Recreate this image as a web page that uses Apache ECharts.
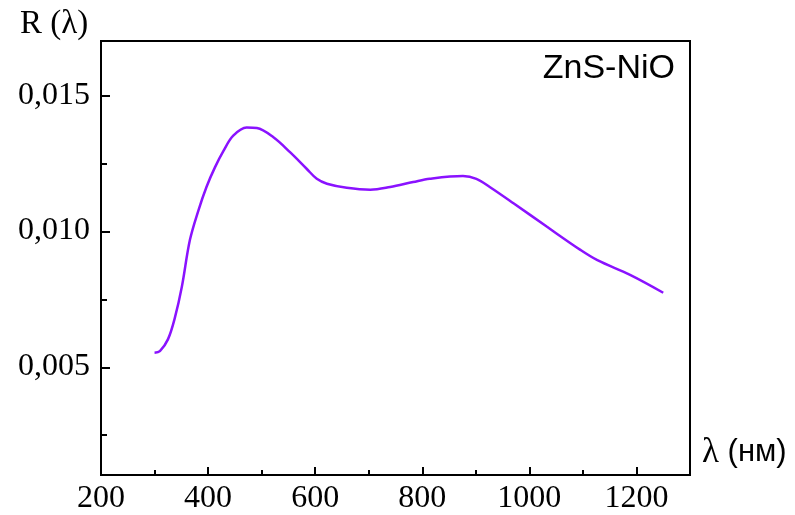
<!DOCTYPE html>
<html>
<head>
<meta charset="utf-8">
<script src="https://cdn.jsdelivr.net/npm/echarts@6/dist/echarts.min.js"></script>
<style>html,body{margin:0;padding:0;background:#fff;}#c{width:795px;height:515px;}</style>
</head>
<body>
<div id="c"></div>
<script>
// Data
var wavelength = [300, 310, 325, 338, 351, 366, 382, 397, 413, 429, 447, 472, 491, 522, 553, 584, 603, 622, 659, 703, 740, 783, 814, 876, 901, 926, 971, 1033, 1096, 1127, 1189, 1250];
var reflectance = [0.00551, 0.00557, 0.00600, 0.00680, 0.00794, 0.00966, 0.01076, 0.01162, 0.01235, 0.01296, 0.01351, 0.01381, 0.01379, 0.01345, 0.0129, 0.01229, 0.01192, 0.01174, 0.01159, 0.01152, 0.01162, 0.0118, 0.01192, 0.01202, 0.01192, 0.01162, 0.01101, 0.01015, 0.00929, 0.00892, 0.00837, 0.00772];
var xTickLabels = [200, 400, 600, 800, 1000, 1200];
var yTickLabels = [0.005, 0.010, 0.015];
var xMin = 200, xMax = 1300, xMajorStep = 200, xMinorStep = 100;
var yMin = 0.001, yMax = 0.017, yMajorStep = 0.005, yMinorStep = 0.0025;
var seriesName = 'ZnS-NiO';
var yTitle = 'R (λ)';
var xTitleSymbol = 'λ';
var xTitleUnit = ' (нм)';

var W = 795, H = 515;
var G = { left: 101, right: 105, top: 41, bottom: 39 };
var plotH = H - G.top - G.bottom;
function pixY(v) { return G.top + (yMax - v) / (yMax - yMin) * plotH; }

var chart = echarts.init(document.getElementById('c'));
var serif = 'Liberation Serif';
var pts = wavelength.map(function (w, i) { return [w, reflectance[i]]; });
var tickLine = { color: '#000', width: 2 };

// y tick grids start at the first tick value (multiple of its step) so interval ticks align
var yMajorStart = yMajorStep, yMinorStart = yMinorStep;

var grids = [
  { left: G.left, right: G.right, top: G.top, bottom: G.bottom, show: true, borderColor: '#000', borderWidth: 2, backgroundColor: 'transparent' },
  { left: G.left, right: G.right, top: G.top, bottom: G.bottom },
  { left: G.left, right: G.right, top: G.top, bottom: G.bottom },
  { left: G.left, right: G.right, top: G.top, bottom: H - pixY(yMajorStart) },
  { left: G.left, right: G.right, top: G.top, bottom: H - pixY(yMinorStart) }
];

function hidden(gi) { return { type: 'value', gridIndex: gi, show: false }; }
function xTickAxis(gi, step, len) {
  return {
    type: 'value', gridIndex: gi, min: xMin, max: xMax, interval: step, position: 'bottom',
    splitLine: { show: false }, axisLine: { show: false }, axisLabel: { show: false },
    axisTick: { show: true, inside: true, length: len, lineStyle: tickLine }
  };
}
function yTickAxis(gi, start, step, len) {
  return {
    type: 'value', gridIndex: gi, min: start, max: yMax, interval: step, position: 'left',
    splitLine: { show: false }, axisLine: { show: false }, axisLabel: { show: false },
    axisTick: { show: true, inside: true, length: len, lineStyle: tickLine }
  };
}

chart.setOption({
  animation: false,
  backgroundColor: '#fff',
  grid: grids,
  xAxis: [
    {
      type: 'value', gridIndex: 0, min: xMin, max: xMax, position: 'bottom',
      splitLine: { show: false },
      axisLine: { show: true, lineStyle: { color: '#000', width: 2 } },
      axisTick: { show: false },
      axisLabel: { customValues: xTickLabels, margin: 8, color: '#000', fontFamily: serif, fontSize: 32,
        formatter: function (v) { return String(v); } }
    },
    xTickAxis(1, xMinorStep, 6),
    xTickAxis(2, xMajorStep, 9),
    hidden(3),
    hidden(4)
  ],
  yAxis: [
    {
      type: 'value', gridIndex: 0, min: yMin, max: yMax, position: 'left',
      splitLine: { show: false },
      axisLine: { show: true, lineStyle: { color: '#000', width: 2 } },
      axisTick: { show: false },
      axisLabel: { customValues: yTickLabels, margin: 11, color: '#000', fontFamily: serif, fontSize: 32,
        formatter: function (v) { return v.toFixed(3).replace('.', ','); } }
    },
    hidden(1),
    hidden(2),
    yTickAxis(3, yMajorStart, yMajorStep, 9),
    yTickAxis(4, yMinorStart, yMinorStep, 6)
  ],
  series: [{
    name: seriesName,
    type: 'line',
    xAxisIndex: 0, yAxisIndex: 0,
    data: pts,
    smooth: 0.35,
    showSymbol: false,
    z: 5,
    lineStyle: { color: '#8a12ff', width: 2.5 }
  }],
  graphic: [
    { type: 'text', left: 20, top: 8, style: { text: yTitle, font: '33px "Liberation Serif"', fill: '#000' } },
    { type: 'text', right: 120, top: 52, style: { text: seriesName, font: '34px "Liberation Sans"', fill: '#000' } },
    { type: 'text', left: 702, top: 435, style: {
        text: '{a|' + xTitleSymbol + '}{b|' + xTitleUnit + '}',
        rich: {
          a: { fontFamily: serif, fontSize: 35, fill: '#000', color: '#000' },
          b: { fontFamily: 'Liberation Sans', fontSize: 31, fill: '#000', color: '#000' }
        }
      } }
  ]
});
</script>
</body>
</html>
